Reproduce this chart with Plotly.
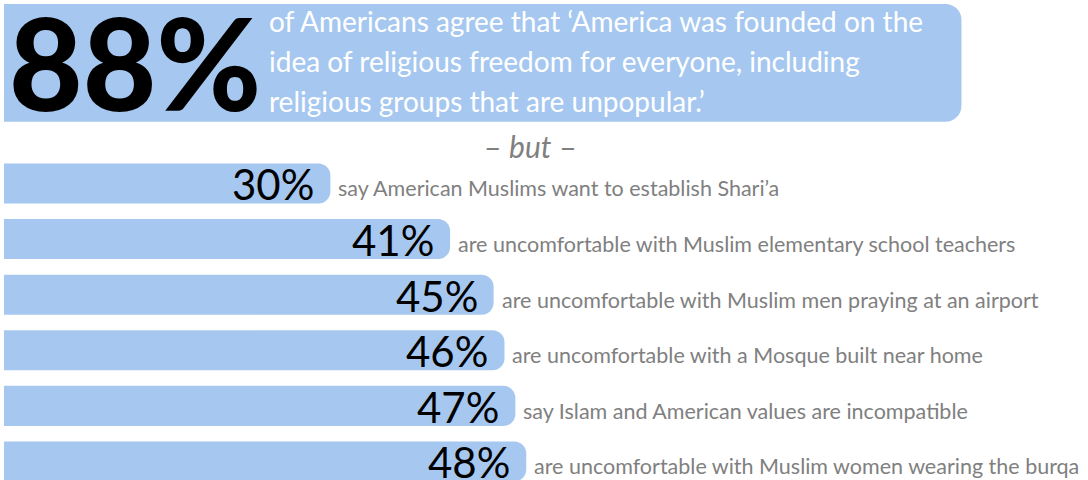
import plotly.graph_objects as go

# headline figure
head_value = 88
head_label = "88%"
head_lines = [
    "of Americans agree that \u2018America was founded on the",
    "idea of religious freedom for everyone, including",
    "religious groups that are unpopular.\u2019",
]
separator = "\u2013 <i>but</i> \u2013"

# the six bars
values = [30, 41, 45, 46, 47, 48]
labels = ["30%", "41%", "45%", "46%", "47%", "48%"]
statements = [
    "say American Muslims want to establish Shari\u2019a",
    "are uncomfortable with Muslim elementary school teachers",
    "are uncomfortable with Muslim men praying at an airport",
    "are uncomfortable with a Mosque built near home",
    "say Islam and American values are incompatible",
    "are uncomfortable with Muslim women wearing the burqa",
]
rows = list(range(len(values)))
head_row = -2.17

BLUE = "#a6c8f0"
GREY = "#808080"
FONT = "Lato"

fig = go.Figure()
fig.add_trace(go.Bar(x=[head_value], y=[head_row], orientation="h", width=2.12,
                     marker=dict(color=BLUE, cornerradius=16, line_width=0),
                     hoverinfo="skip", showlegend=False))
fig.add_trace(go.Bar(x=values, y=rows, orientation="h", width=0.72,
                     marker=dict(color=BLUE, cornerradius=12, line_width=0),
                     hoverinfo="skip", showlegend=False))

ann = []
ann.append(dict(x=0.35, y=head_row, xref="x", yref="y", text="<b>" + head_label + "</b>",
                xanchor="left", yanchor="middle", showarrow=False, yshift=1, xshift=-1,
                font=dict(family="Lato Black, Open Sans", size=127, color="black", weight=900)))
for i, line in enumerate(head_lines):
    ann.append(dict(x=24.2, y=head_row, xref="x", yref="y", text=line,
                    xanchor="left", yanchor="middle", showarrow=False,
                    yshift=(1 - i) * 40 + 2,
                    font=dict(family=FONT, size=28, color="white")))
ann.append(dict(x=48.4, y=-0.67, xref="x", yref="y", text=separator,
                xanchor="center", yanchor="middle", showarrow=False,
                font=dict(family=FONT, size=30, color=GREY)))
for v, r, lab, s in zip(values, rows, labels, statements):
    ann.append(dict(x=v, y=r, xref="x", yref="y", text=lab, xanchor="right",
                    yanchor="middle", showarrow=False, xshift=-14, yshift=-1,
                    font=dict(family=FONT, size=42, color="black")))
    ann.append(dict(x=v, y=r, xref="x", yref="y", text=s, xanchor="left",
                    yanchor="middle", showarrow=False, xshift=6, yshift=-5,
                    font=dict(family=FONT, size=21.5, color=GREY)))

fig.update_layout(
    width=1088, height=480,
    margin=dict(l=0, r=0, t=0, b=0),
    paper_bgcolor="white", plot_bgcolor="white",
    barmode="overlay",
    xaxis=dict(range=[-0.368, 99.63], visible=False, fixedrange=True),
    yaxis=dict(range=[5.333, -3.30], visible=False, fixedrange=True),
    annotations=ann,
)

# drop the default 8px body margin so the figure fills the window exactly
fig.write_html("out.html", config={"displayModeBar": False},
               post_script="document.body.style.margin='0';")
